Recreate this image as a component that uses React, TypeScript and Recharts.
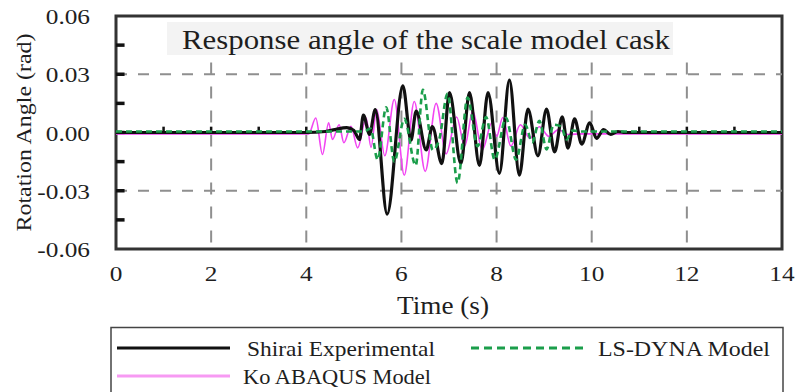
import React from "react";
import { LineChart, Line, XAxis, YAxis, ReferenceLine, ReferenceArea } from "recharts";

// Time (s) / rotation angle (rad) samples for each series
const shiraiTime = [0, 4.0, 4.4, 4.6, 4.85, 5.0, 5.12, 5.2, 5.33, 5.45, 5.7, 6.03, 6.2, 6.31, 6.52, 6.65, 6.85, 7.01, 7.25, 7.43, 7.64, 7.82, 8.06, 8.27, 8.48, 8.66, 8.87, 9.05, 9.22, 9.38, 9.5, 9.64, 9.79, 9.96, 10.1, 10.25, 10.4, 10.55, 10.7, 14];
const shiraiAngle = [0, 0, 0.0005, 0.0015, 0.0025, 0.001, -0.0036, 0.009, -0.001, 0.0118, -0.042, 0.024, -0.004, 0.011, -0.009, 0.003, -0.016, 0.0205, -0.016, 0.0205, -0.017, 0.0205, -0.021, 0.027, -0.022, 0.012, -0.012, 0.012, -0.01, 0.008, -0.008, 0.007, -0.006, 0.005, -0.003, 0.0015, -0.001, 0.0005, 0, 0];

const koTime = [0, 4.05, 4.2, 4.34, 4.47, 4.55, 4.69, 4.79, 4.94, 5.08, 5.26, 5.36, 5.48, 5.65, 5.85, 6.06, 6.27, 6.5, 6.73, 6.94, 7.16, 7.33, 7.5, 7.7, 7.9, 8.0, 8.13, 8.3, 8.5, 8.7, 8.9, 9.1, 9.3, 9.5, 9.8, 14];
const koAngle = [-0.0007, -0.0007, 0.0075, -0.0113, 0.005, -0.0036, 0.004, -0.0053, 0.0032, -0.0079, 0.0075, -0.0077, 0.0118, -0.012, 0.017, -0.022, 0.016, -0.02, 0.015, -0.011, 0.008, -0.007, 0.011, -0.009, 0.005, -0.002, 0.0077, -0.007, 0.004, -0.003, 0.003, -0.002, 0.0015, -0.001, -0.0007, -0.0007];

const lsDynaTime = [0, 5.2, 5.35, 5.5, 5.68, 5.85, 6.06, 6.3, 6.45, 6.66, 6.8, 6.97, 7.18, 7.39, 7.6, 7.78, 7.96, 8.2, 8.41, 8.6, 8.75, 8.9, 9.05, 9.2, 9.36, 9.47, 9.6, 9.8, 14];
const lsDynaAngle = [0.0005, 0.0005, 0.002, -0.014, 0.013, -0.015, 0.007, -0.017, 0.022, -0.009, -0.003, 0.02, -0.026, 0.018, -0.007, 0.008, -0.014, 0.0075, -0.014, 0.004, -0.005, 0.006, -0.0087, 0.004, 0.003, -0.0036, 0.001, 0.0005, 0.0005];

const timeTicks = [0, 2, 4, 6, 8, 10, 12, 14];
const angleTicks = [-0.06, -0.03, 0, 0.03, 0.06];
const angleMarks = [0.045, 0.03, 0.015, 0, -0.015, -0.03, -0.045];
const secondMarks = [1, 2, 3, 4, 10, 11, 12, 13];
const gridTimes = [2, 4, 6, 8, 10, 12];
const gridAngles = [0.03, -0.03];

const seriesNames = ["Shirai Experimental", "LS-DYNA Model", "Ko ABAQUS Model"];
const titleText = "Response angle of the scale model cask";

const toPoints = (t: number[], v: number[]) => t.map((x, i) => ({ t: x, v: v[i] }));
const shiraiData = toPoints(shiraiTime, shiraiAngle);
const koData = toPoints(koTime, koAngle);
const lsDynaData = toPoints(lsDynaTime, lsDynaAngle);

const FONT = "Liberation Serif, Tinos, Times New Roman, DejaVu Serif, serif";
const TEXT = "#1e1e1e";
const GRID = "#8f8f8f";
const FRAME = "#333";
const BLACK = "#111";
const PINK = "#f245f2";
const PINK_KEY = "#f79af3";
const GREEN = "#1b9e4b";

const serif = { fontFamily: FONT };

// tick labels are drawn slightly wide, as in the printed figure
const XTick = (p: any) => (
  <g transform={`translate(${p.x} ${p.y + 32}) scale(1.15 1)`}>
    <text x={0} y={0} textAnchor="middle" style={serif} fontSize={22} fill={TEXT}>
      {p.payload.value}
    </text>
  </g>
);

const YTick = (p: any) => (
  <g transform={`translate(${p.x - 26} ${p.y + 8}) scale(1.15 1)`}>
    <text x={0} y={0} textAnchor="end" style={serif} fontSize={22} fill={TEXT}>
      {Number(p.payload.value).toFixed(2)}
    </text>
  </g>
);

export default function App() {
  return (
    <div style={{ position: "absolute", left: 0, top: 0, width: 795, height: 392, background: "#fff", overflow: "hidden", fontFamily: FONT }}>
      <LineChart width={795} height={392} data={shiraiData} margin={{ top: 16, right: 13, left: 0, bottom: 103 }}>
        <XAxis
          dataKey="t"
          type="number"
          domain={[0, 14]}
          ticks={timeTicks}
          axisLine={false}
          tickLine={false}
          tickSize={0}
          tickMargin={0}
          height={40}
          tick={<XTick />}
          allowDataOverflow
        />
        <YAxis
          type="number"
          domain={[-0.06, 0.06]}
          ticks={angleTicks}
          axisLine={false}
          tickLine={false}
          tickSize={0}
          tickMargin={0}
          width={116}
          tick={<YTick />}
          allowDataOverflow
          label={{
            content: (lp: any) => {
              const vb = lp.viewBox || {};
              const cx = (vb.x ?? 0) + 23;
              const cy = (vb.y ?? 0) + (vb.height ?? 0) / 2;
              return (
                <text x={cx} y={cy} transform={`rotate(-90 ${cx} ${cy})`} textAnchor="middle" dominantBaseline="central" style={serif} fontSize={22} fill={TEXT} textLength={198} lengthAdjust="spacingAndGlyphs">
                  Rotation Angle (rad)
                </text>
              );
            },
          }}
        />
        {gridAngles.map((a) => (
          <ReferenceLine key={`ga${a}`} y={a} stroke={GRID} strokeWidth={2} strokeDasharray="11 11" />
        ))}
        {gridTimes.map((g) => (
          <ReferenceLine
            key={`gt${g}`}
            segment={[{ x: g, y: 0.036 }, { x: g, y: -0.06 }]}
            stroke={GRID}
            strokeWidth={2}
            strokeDasharray="12 12"
          />
        ))}
        {secondMarks.map((s) => (
          <ReferenceLine key={`sm${s}`} segment={[{ x: s, y: 0 }, { x: s, y: 0.003 }]} stroke={BLACK} strokeWidth={2.5} />
        ))}
        {angleMarks.map((a) => (
          <ReferenceLine key={`am${a}`} segment={[{ x: 0, y: a }, { x: 0.18, y: a }]} stroke={BLACK} strokeWidth={3.5} />
        ))}
        <ReferenceArea x1={0} x2={14} y1={-0.06} y2={0.06} fill="none" stroke={FRAME} strokeWidth={3} />
        <Line data={koData} dataKey="v" type="monotone" stroke={PINK} strokeWidth={1.6} dot={false} isAnimationActive={false} name={seriesNames[2]} />
        <Line data={shiraiData} dataKey="v" type="monotone" stroke={BLACK} strokeWidth={3.2} dot={false} isAnimationActive={false} name={seriesNames[0]} />
        <Line data={lsDynaData} dataKey="v" type="monotone" stroke={GREEN} strokeWidth={2.6} strokeDasharray="6 4" dot={false} isAnimationActive={false} name={seriesNames[1]} />
      </LineChart>

      {/* chart title panel, axis title and legend */}
      <svg width={795} height={392} style={{ position: "absolute", left: 0, top: 0, pointerEvents: "none", ...serif }}>
        <rect x={167} y={22} width={506} height={33} fill="#f3f3f3" />
        <text x={182} y={49} style={serif} fontSize={27} fill={TEXT} textLength={488} lengthAdjust="spacingAndGlyphs">
          {titleText}
        </text>
        <text x={443} y={314} textAnchor="middle" style={serif} fontSize={25} fill={TEXT} textLength={92} lengthAdjust="spacingAndGlyphs">
          Time (s)
        </text>
        <rect x={111} y={327.5} width={672} height={80} fill="none" stroke="#444" strokeWidth={1.5} />
        <line x1={117} y1={348} x2={230} y2={348} stroke={BLACK} strokeWidth={3} />
        <text x={247} y={356} style={serif} fontSize={22} fill={TEXT} textLength={188} lengthAdjust="spacingAndGlyphs">
          {seriesNames[0]}
        </text>
        <line x1={471} y1={348} x2={583} y2={348} stroke={GREEN} strokeWidth={3} strokeDasharray="8 5" />
        <text x={598} y={356} style={serif} fontSize={22} fill={TEXT} textLength={172} lengthAdjust="spacingAndGlyphs">
          {seriesNames[1]}
        </text>
        <line x1={117} y1={376} x2={230} y2={376} stroke={PINK_KEY} strokeWidth={3} />
        <text x={243} y={384} style={serif} fontSize={22} fill={TEXT} textLength={188} lengthAdjust="spacingAndGlyphs">
          {seriesNames[2]}
        </text>
      </svg>
    </div>
  );
}
